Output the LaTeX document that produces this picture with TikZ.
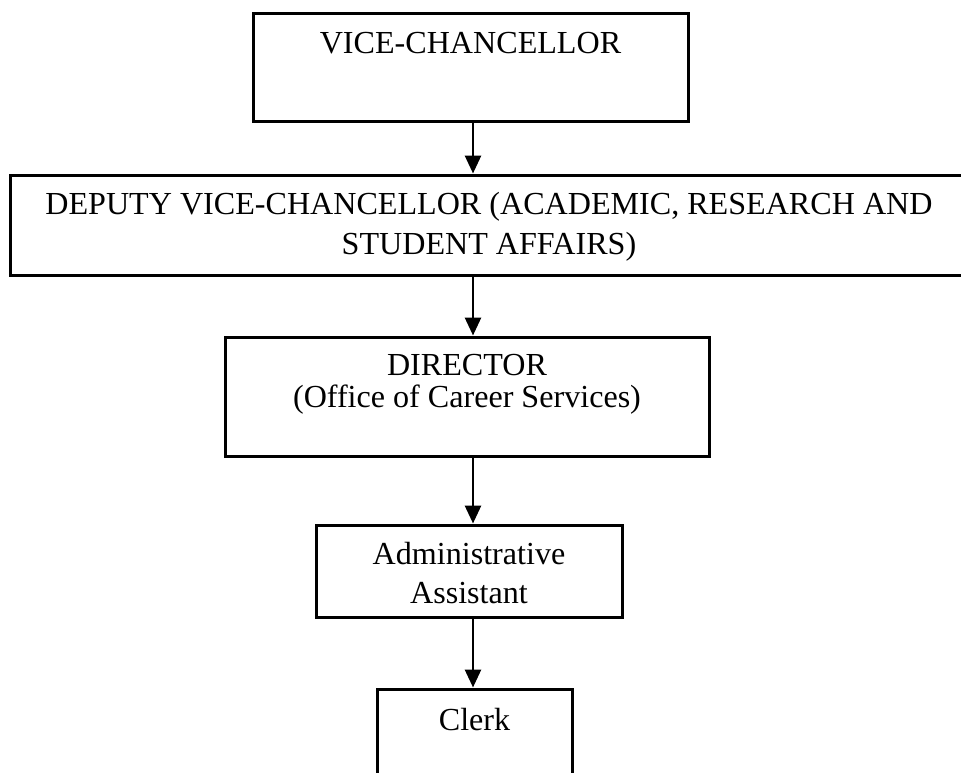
\documentclass[tikz,border=0pt]{standalone}
\usepackage{fontspec}
\setmainfont{Liberation Serif}
\usetikzlibrary{arrows.meta,positioning}

\begin{document}
\begin{tikzpicture}[
  x=1pt, y=-1pt,
  >={Triangle[width=16pt,length=18pt]},
  box/.style={draw, line width=3pt, inner sep=0pt},
  lbl/.style={align=center, inner sep=0pt, font=\fontsize{32.1}{#1}\selectfont},
  lbl/.default=40,
  link/.style={->, line width=2.8pt}
]
\useasboundingbox (0,0) rectangle (961,772);
\coordinate (spine) at (473,0);

% boxes, top to bottom
\node[box, minimum width=435pt, minimum height=108pt] (vc) at (470.5,67) {};
\node[box, minimum width=958pt, minimum height=100pt] (dvc) at (489,225) {};
\node[box, minimum width=484pt, minimum height=119pt] (dir) at (467,396.5) {};
\node[box, minimum width=306pt, minimum height=92pt] (admin) at (469,571) {};
\node[box, minimum width=195pt, minimum height=102pt] (clerk) at (474.5,740) {};

% texts
\node[lbl, below=21pt of vc.north] (vctext) {VICE-CHANCELLOR};
\node[lbl, below=18.5pt of dvc.north] (dvctext)
  {DEPUTY VICE-CHANCELLOR (ACADEMIC, RESEARCH AND\\STUDENT AFFAIRS)};
\node[lbl=32, below=18.5pt of dir.north] (dirtext)
  {DIRECTOR\\(Office of Career Services)};
\node[lbl=39, below=18.5pt of admin.north] (admintext)
  {Administrative\\Assistant};
\node[lbl, below=20.5pt of clerk.north] (clerktext) {Clerk};

% reporting lines
\draw[link] (vc.south -| spine) -- (dvc.north -| spine);
\draw[link] (dvc.south -| spine) -- (dir.north -| spine);
\draw[link] (dir.south -| spine) -- (admin.north -| spine);
\draw[link] (admin.south -| spine) -- (clerk.north -| spine);

\end{tikzpicture}
\end{document}
